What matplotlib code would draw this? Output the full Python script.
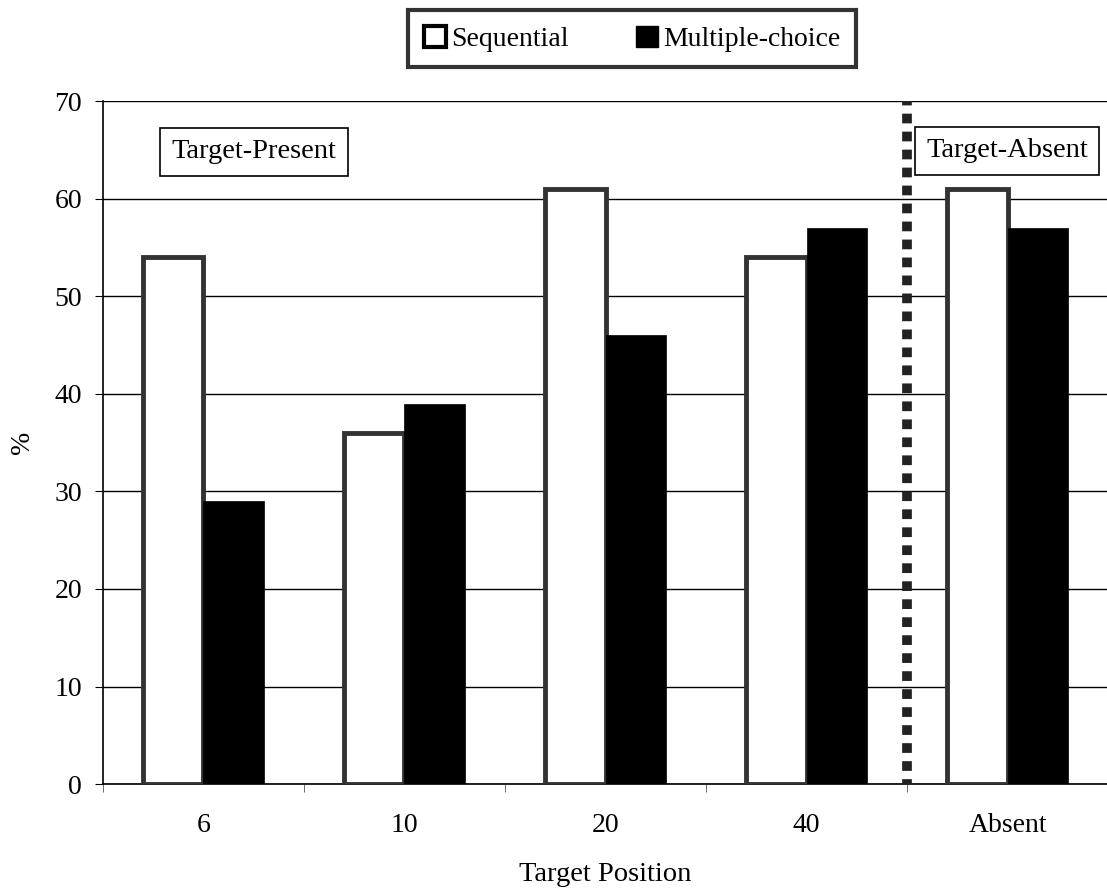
import numpy as np
import matplotlib
matplotlib.use("Agg")
import matplotlib.pyplot as plt
from matplotlib.patches import Patch

plt.rcParams['font.family'] = ['Liberation Serif', 'DejaVu Serif']

categories = ['6', '10', '20', '40', 'Absent']
sequential = [54, 36, 61, 54, 61]
multiple = [29, 39, 46, 57, 57]

fig = plt.figure(figsize=(11.07, 8.9), dpi=100)
ax = fig.add_axes([0.093, 0.119, 0.908, 0.7675])

x = np.arange(len(categories))
w = 0.3
ax.set_axisbelow(True)
ax.yaxis.grid(True, color='black', lw=1)
ax.bar(x - w / 2, sequential, w, color='white', edgecolor='#333333', lw=3.5,
       zorder=3)
ax.bar(x + w / 2, multiple, w, color='black', edgecolor='black', lw=0.5,
       zorder=3)

# separator between target-present and target-absent
ax.vlines(3.5, 0, 70, color='#222222', lw=7, linestyles=(0.5, (1, 0.85)),
          zorder=4)

ax.set_xlim(-0.5, 4.5)
ax.set_ylim(0, 70)
ax.set_yticks(range(0, 71, 10))
ax.set_xticks(x)
ax.set_xticklabels(categories)
ax.set_xticks(np.arange(-0.5, 5, 1), minor=True)
ax.tick_params(axis='x', which='major', length=0, pad=21, labelsize=20)
ax.tick_params(axis='x', which='minor', length=6, direction='out',
               color='#555555')
ax.tick_params(axis='y', length=6, direction='out', pad=9, labelsize=20)

for s in ['top', 'right']:
    ax.spines[s].set_visible(False)
ax.spines['left'].set_linewidth(1.2)
ax.spines['bottom'].set_linewidth(1.2)

ax.set_xlabel('Target Position', fontsize=20.5)
ax.set_ylabel('%', fontsize=20)
ax.xaxis.set_label_coords(0.5, -0.114)
ax.yaxis.set_label_coords(-0.0675, 0.5)

box = dict(boxstyle='square,pad=0.4', fc='white', ec='black', lw=1.2)
ax.text(0.25, 64.8, 'Target-Present', fontsize=20.5, ha='center',
        va='center', bbox=box, zorder=5)
ax.text(3.595, 64.9, 'Target-Absent', fontsize=20.5, ha='left', va='center',
        bbox=box, zorder=5)

handles = [Patch(fc='white', ec='black', lw=3),
           Patch(fc='black', ec='black')]
leg = fig.legend(handles, ['Sequential', 'Multiple-choice'], ncol=2,
                 loc='upper center', bbox_to_anchor=(0.571, 1.004),
                 fontsize=20, frameon=True, fancybox=False, handlelength=0.8,
                 handleheight=0.8, handletextpad=0.2, columnspacing=2.4,
                 borderpad=0.55)
leg.get_frame().set_edgecolor('black')
leg.get_frame().set_linewidth(3)

fig.savefig('out.png', dpi=100)
